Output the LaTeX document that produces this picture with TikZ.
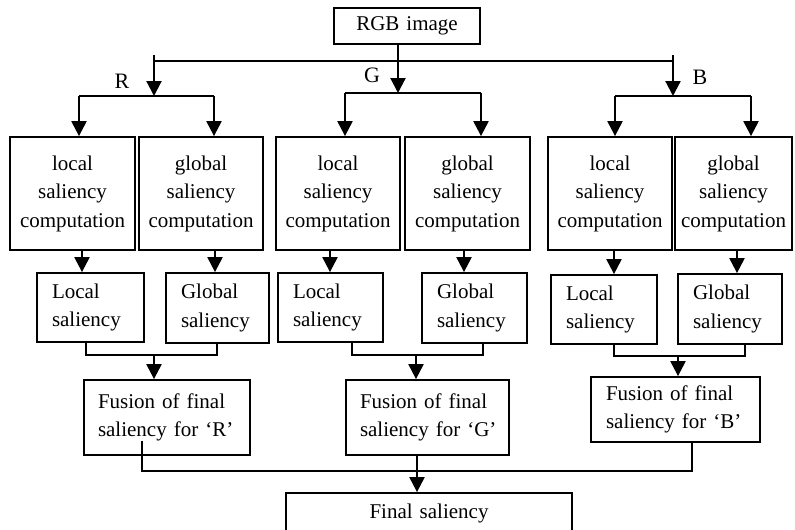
\documentclass[tikz,border=0pt]{standalone}
\usepackage{fontspec}
\setmainfont{Liberation Serif}
\usetikzlibrary{arrows.meta}
\tikzset{
  box/.style={draw=black, line width=1.8pt, inner ysep=0pt, font=\fontsize{21}{28.5}\selectfont},
  cbox/.style={box, align=center, inner xsep=2pt},
  lbox/.style={box, align=left, inner xsep=15pt},
  lbl/.style={font=\fontsize{22}{26}\selectfont, inner sep=0pt},
  ln/.style={line width=2.2pt, line cap=butt},
  arr/.style={ln, -{Triangle[width=15pt,length=15pt]}}
}
\begin{document}
\begin{tikzpicture}[x=1pt,y=-1pt]
\useasboundingbox (0,0) rectangle (795,530);

% boxes
\node[cbox, minimum width=146pt, minimum height=36pt, text width=142pt] (rgb) at (407,26) {RGB image};

\node[cbox, minimum width=125pt, minimum height=113pt, text width=121pt] (rl) at (72.5,193.5) {local\\saliency\\computation};
\node[cbox, minimum width=124pt, minimum height=113pt, text width=120pt] (rg) at (201,193.5) {global\\saliency\\computation};
\node[cbox, minimum width=124pt, minimum height=113pt, text width=120pt] (gl) at (338,193.5) {local\\saliency\\computation};
\node[cbox, minimum width=125pt, minimum height=113pt, text width=121pt] (gg) at (467.5,193.5) {global\\saliency\\computation};
\node[cbox, minimum width=124pt, minimum height=113pt, text width=120pt] (bl) at (610,193.5) {local\\saliency\\computation};
\node[cbox, minimum width=117pt, minimum height=113pt, text width=113pt] (bg) at (733.5,193.5) {global\\saliency\\computation};

\node[lbox, minimum width=107pt, minimum height=69pt, text width=77pt] (rL) at (90.5,307.5) {Local\\saliency};
\node[lbox, minimum width=103pt, minimum height=70pt, text width=73pt] (rG) at (217.5,308) {Global\\saliency};
\node[lbox, minimum width=105pt, minimum height=69pt, text width=75pt] (gL) at (330.5,307.5) {Local\\saliency};
\node[lbox, minimum width=105pt, minimum height=70pt, text width=75pt] (gG) at (474.5,308) {Global\\saliency};
\node[lbox, minimum width=106pt, minimum height=69pt, text width=76pt] (bL) at (604,309.5) {Local\\saliency};
\node[lbox, minimum width=104pt, minimum height=70pt, text width=74pt] (bG) at (730,309) {Global\\saliency};

\node[lbox, inner xsep=14pt, minimum width=166pt, minimum height=75pt, text width=138pt] (rF) at (167,417.5) {\mbox{Fusion of final}\\\mbox{saliency for ‘R’}};
\node[lbox, inner xsep=14pt, minimum width=163pt, minimum height=75pt, text width=135pt] (gF) at (427.5,417.5) {\mbox{Fusion of final}\\\mbox{saliency for ‘G’}};
\node[lbox, minimum width=169pt, minimum height=65pt, text width=139pt] (bF) at (675.5,409.5) {\mbox{Fusion of final}\\\mbox{saliency for ‘B’}};

\node[cbox, minimum width=286pt, minimum height=40pt, text width=282pt] (final) at (429,513) {Final saliency};

% labels
\node[lbl] (labR) at (122,81) {R};
\node[lbl] (labG) at (372,75) {G};
\node[lbl] (labB) at (700,77) {B};

% coordinates
\coordinate (mL) at (154,61);
\coordinate (mR) at (673,61);
\coordinate (rstub) at (154,55);
\coordinate (rsplit) at (154,96);
\coordinate (bstub) at (673,55);
\coordinate (bsplit) at (673,96);
\coordinate (gsplit) at (398,93);

\coordinate (ra) at (79,96);
\coordinate (rb) at (214,96);
\coordinate (ga) at (345,93);
\coordinate (gb) at (481,93);
\coordinate (ba) at (615,96);
\coordinate (bb) at (751,96);

\coordinate (c1) at (82,0);
\coordinate (c2) at (215,0);
\coordinate (c3) at (330,0);
\coordinate (c4) at (464,0);
\coordinate (c5) at (614,0);
\coordinate (c6) at (737,0);

\coordinate (rmL) at (86,355);
\coordinate (rmR) at (217,355);
\coordinate (rmA) at (154,355);
\coordinate (gmL) at (352,355);
\coordinate (gmR) at (483,355);
\coordinate (gmA) at (416,355);
\coordinate (bmL) at (614,356);
\coordinate (bmR) at (745,356);
\coordinate (bmA) at (678,356);

\coordinate (rFout) at (142,441);
\coordinate (fL) at (142,471);
\coordinate (fR) at (692,471);
\coordinate (fA) at (417,471);

% top distribution
\draw[ln] (mL) -- (mR);
\draw[arr] (gsplit |- rgb.south) -- (gsplit);
\draw[arr] (rstub) -- (rsplit);
\draw[arr] (bstub) -- (bsplit);

\draw[ln] (ra) -- (rb);
\draw[arr] (ra) -- (ra |- rl.north);
\draw[arr] (rb) -- (rb |- rg.north);
\draw[ln] (ga) -- (gb);
\draw[arr] (ga) -- (ga |- gl.north);
\draw[arr] (gb) -- (gb |- gg.north);
\draw[ln] (ba) -- (bb);
\draw[arr] (ba) -- (ba |- bl.north);
\draw[arr] (bb) -- (bb |- bg.north);

% computation to saliency
\draw[arr] (c1 |- rl.south) -- (c1 |- rL.north);
\draw[arr] (c2 |- rg.south) -- (c2 |- rG.north);
\draw[arr] (c3 |- gl.south) -- (c3 |- gL.north);
\draw[arr] (c4 |- gg.south) -- (c4 |- gG.north);
\draw[arr] (c5 |- bl.south) -- (c5 |- bL.north);
\draw[arr] (c6 |- bg.south) -- (c6 |- bG.north);

% merges
\draw[ln] (rmL |- rL.south) -- (rmL) -- (rmR) -- (rmR |- rG.south);
\draw[arr] (rmA) -- (rmA |- rF.north);
\draw[ln] (gmL |- gL.south) -- (gmL) -- (gmR) -- (gmR |- gG.south);
\draw[arr] (gmA) -- (gmA |- gF.north);
\draw[ln] (bmL |- bL.south) -- (bmL) -- (bmR) -- (bmR |- bG.south);
\draw[arr] (bmA) -- (bmA |- bF.north);

% final
\draw[ln] (rFout) -- (fL) -- (fR) -- (fR |- bF.south);
\draw[arr] (fA |- gF.south) -- (fA |- final.north);
\end{tikzpicture}
\end{document}
